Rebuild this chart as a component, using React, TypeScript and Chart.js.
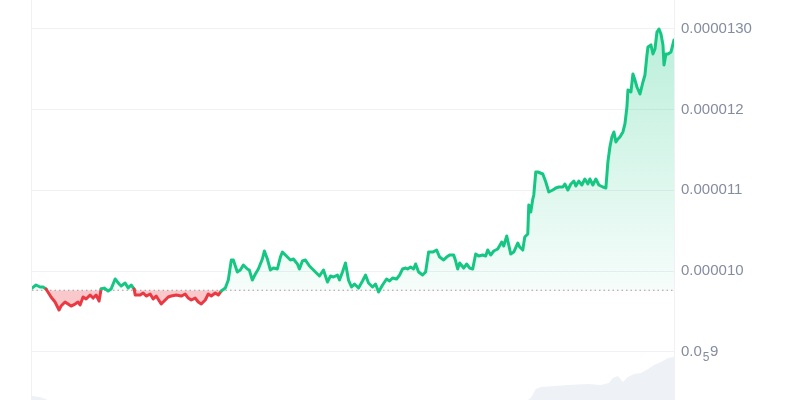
import React, { useEffect, useRef } from "react";
import { Chart, registerables } from "chart.js";

Chart.register(...registerables);

// Time position (steps from the start of the period)
const timeSteps = [
  0, 4, 8, 11, 14, 19, 23, 27, 29, 33, 36, 39, 43, 46, 48, 51, 54, 58, 61, 64,
  67, 69, 72, 76, 79, 83, 87, 89, 93, 96, 99, 102, 103, 108, 111, 114, 118, 121, 124, 129,
  133, 136, 139, 144, 149, 153, 156, 159, 163, 166, 169, 173, 176, 179, 183, 186, 189, 193, 196, 199,
  201, 205, 208, 211, 215, 217, 220, 223, 226, 230, 232, 235, 238, 241, 245, 248, 250, 254, 258, 261,
  265, 267, 270, 273, 277, 280, 284, 287, 291, 295, 298, 301, 305, 307, 310, 313, 316, 319, 322, 326,
  330, 333, 336, 340, 343, 346, 350, 354, 357, 360, 364, 367, 370, 373, 375, 378, 381, 383, 386, 390,
  393, 396, 400, 404, 407, 411, 414, 417, 421, 423, 425, 427, 431, 434, 437, 440, 443, 446, 450, 453,
  455, 458, 461, 465, 469, 471, 474, 476, 478, 481, 485, 487, 490, 492, 495, 496, 498, 500, 501, 503,
  505, 510, 513, 516, 520, 523, 526, 530, 532, 535, 538, 541, 543, 546, 549, 552, 555, 557, 560, 563,
  566, 570, 573, 575, 577, 579, 581, 583, 585, 587, 590, 592, 594, 595, 598, 600, 602, 604, 607, 610,
  612, 614, 615, 618, 620, 622, 624, 626, 628, 630, 631, 633, 635, 638, 641,
];

// Price in millionths (value × 0.000001)
const priceMicro = [
  9.789, 9.827, 9.802, 9.802, 9.777, 9.678, 9.616, 9.517, 9.566, 9.616, 9.591, 9.566, 9.591, 9.616, 9.579, 9.678, 9.653, 9.703, 9.665, 9.703,
  9.628, 9.777, 9.789, 9.752, 9.777, 9.901, 9.839, 9.814, 9.851, 9.789, 9.827, 9.777, 9.703, 9.703, 9.727, 9.69, 9.715, 9.653, 9.69, 9.591,
  9.641, 9.678, 9.69, 9.703, 9.69, 9.715, 9.665, 9.641, 9.665, 9.616, 9.591, 9.641, 9.715, 9.69, 9.727, 9.703, 9.752, 9.789, 9.888, 10.136,
  10.136, 9.988, 10.012, 10.074, 10.025, 10.012, 9.888, 9.963, 10.025, 10.149, 10.248, 10.149, 10.012, 10.037, 10.025, 10.173, 10.235, 10.186, 10.136, 10.149,
  10.087, 10.025, 10.124, 10.136, 10.062, 10.025, 9.975, 9.938, 10.012, 9.864, 9.938, 9.926, 9.95, 9.888, 9.988, 10.099, 9.888, 9.802, 9.839, 9.789,
  9.876, 9.95, 9.851, 9.802, 9.839, 9.74, 9.827, 9.901, 9.876, 9.913, 9.901, 9.95, 10.025, 10.037, 10.025, 10.05, 10.025, 10.087, 9.988, 9.95,
  9.988, 10.235, 10.235, 10.26, 10.173, 10.136, 10.173, 10.198, 10.198, 10.124, 10.025, 10.099, 10.037, 10.087, 10.037, 10.025, 10.211, 10.186, 10.198, 10.186,
  10.26, 10.198, 10.248, 10.273, 10.359, 10.31, 10.434, 10.322, 10.211, 10.235, 10.347, 10.297, 10.26, 10.421, 10.458, 10.818, 10.731, 10.892, 10.942, 11.227,
  11.227, 11.202, 11.103, 10.979, 11.004, 11.029, 11.041, 11.041, 11.078, 11.004, 11.078, 11.115, 11.053, 11.115, 11.066, 11.14, 11.078, 11.14, 11.066, 11.14,
  11.066, 11.041, 11.029, 11.351, 11.537, 11.661, 11.723, 11.599, 11.636, 11.661, 11.723, 11.822, 12.032, 12.243, 12.218, 12.441, 12.367, 12.28, 12.193, 12.342,
  12.429, 12.677, 12.776, 12.801, 12.689, 12.751, 12.962, 12.999, 12.937, 12.801, 12.553, 12.689, 12.689, 12.714, 12.863,
];

// Opening price of the period (dotted reference line), in millionths
const openPriceMicro = 9.762;

// Volume (relative units)
const volumeSteps = [0, 8, 16, 495, 498, 503, 508, 535, 555, 568, 576, 580, 585, 590, 595, 601, 608, 615, 621, 628, 635, 641];
const volumeValues = [4, 3, 0, 0, 2, 11, 13, 15, 16, 15, 17, 22, 24, 18, 23, 26, 27, 31, 35, 38, 42, 43];

// Y axis ticks (millionths) and their labels; the 9 tick uses subscript zero-count notation 0.0₅9
const yTickValues = [9, 10, 11, 12, 13];
const yTickLabels = ["", "0.000010", "0.000011", "0.000012", "0.0000130"];
const subscriptTick = { value: 9, head: "0.0", sub: "5", tail: "9" };

const GREEN = "#16c784";
const RED = "#ea3943";
const GRID = "#eff1f4";
const LABEL = "#858ca0";
const FONT = "'Liberation Sans', Arial, sans-serif";

export default function App() {
  const canvasRef = useRef<HTMLCanvasElement | null>(null);

  useEffect(() => {
    if (!canvasRef.current) return;

    const pricePoints = timeSteps.map((t, i) => ({ x: t, y: priceMicro[i] }));
    const volumePoints = volumeSteps.map((t, i) => ({ x: t, y: volumeValues[i] }));
    const lastStep = timeSteps[timeSteps.length - 1];
    const openPoints = [
      { x: timeSteps[0], y: openPriceMicro },
      { x: lastStep, y: openPriceMicro },
    ];

    const framePlugin = {
      id: "frameLeft",
      beforeDatasetsDraw(chart: any) {
        const { ctx, chartArea } = chart;
        ctx.save();
        ctx.strokeStyle = GRID;
        ctx.lineWidth = 1;
        ctx.beginPath();
        ctx.moveTo(chartArea.left - 0.5, 0);
        ctx.lineTo(chartArea.left - 0.5, chart.height);
        ctx.stroke();
        ctx.restore();
      },
    };

    const subscriptLabelPlugin = {
      id: "subscriptLabel",
      afterDraw(chart: any) {
        const { ctx, chartArea } = chart;
        const y = chart.scales.y.getPixelForValue(subscriptTick.value);
        let x = chartArea.right + 7;
        ctx.save();
        ctx.fillStyle = LABEL;
        ctx.textBaseline = "middle";
        ctx.textAlign = "left";
        ctx.font = `15px ${FONT}`;
        ctx.fillText(subscriptTick.head, x, y);
        x += ctx.measureText(subscriptTick.head).width + 1;
        ctx.font = `12px ${FONT}`;
        ctx.fillText(subscriptTick.sub, x, y + 6);
        x += ctx.measureText(subscriptTick.sub).width + 0.5;
        ctx.font = `15px ${FONT}`;
        ctx.fillText(subscriptTick.tail, x, y);
        ctx.restore();
      },
    };

    const chart = new Chart(canvasRef.current, {
      type: "line",
      data: {
        datasets: [
          {
            label: "price",
            data: pricePoints,
            yAxisID: "y",
            order: 1,
            borderWidth: 3,
            borderJoinStyle: "round",
            borderCapStyle: "round",
            pointRadius: 0,
            tension: 0,
            borderColor: GREEN,
            segment: {
              borderColor: (ctx: any) =>
                (ctx.p0.parsed.y + ctx.p1.parsed.y) / 2 < openPriceMicro ? RED : GREEN,
            },
            backgroundColor: (ctx: any) => {
              const c = ctx.chart;
              const area = c.chartArea;
              if (!area) return "rgba(22,199,132,0.15)";
              const yBase = c.scales.y.getPixelForValue(openPriceMicro);
              const g = c.ctx.createLinearGradient(0, area.top, 0, yBase);
              g.addColorStop(0, "rgba(22,199,132,0.32)");
              g.addColorStop(1, "rgba(22,199,132,0.04)");
              return g;
            },
            fill: {
              target: { value: openPriceMicro },
              below: "rgba(234,57,67,0.28)",
            },
          } as any,
          {
            label: "open",
            data: openPoints,
            yAxisID: "y",
            order: 2,
            borderColor: "#9aa1ad",
            borderWidth: 1,
            borderDash: [1.5, 3],
            pointRadius: 0,
            fill: false,
          },
          {
            label: "volume",
            data: volumePoints,
            yAxisID: "y2",
            order: 3,
            borderWidth: 0,
            borderColor: "rgba(0,0,0,0)",
            backgroundColor: "#eef1f6",
            pointRadius: 0,
            tension: 0,
            fill: "start",
          },
        ],
      },
      options: {
        animation: false,
        responsive: true,
        maintainAspectRatio: false,
        layout: { padding: { left: 32, right: 0, top: 0, bottom: 0 } },
        plugins: {
          legend: { display: false },
          tooltip: { enabled: false },
        },
        scales: {
          x: {
            type: "linear",
            display: false,
            min: timeSteps[0],
            max: lastStep,
          },
          y: {
            position: "right",
            min: 8.402,
            max: 13.358,
            grid: { color: GRID, drawTicks: false, lineWidth: 1 },
            border: { display: true, color: GRID },
            afterBuildTicks: (scale: any) => {
              scale.ticks = yTickValues.map((v) => ({ value: v }));
            },
            afterFit: (scale: any) => {
              scale.width = 126;
              scale.paddingTop = 0;
              scale.paddingBottom = 0;
            },
            ticks: {
              padding: 7,
              color: LABEL,
              font: { family: FONT, size: 15 },
              callback: (value: any) => {
                const idx = yTickValues.indexOf(Number(value));
                return idx >= 0 ? yTickLabels[idx] : "";
              },
            },
          },
          y2: {
            display: false,
            min: 0,
            max: 400,
          },
        },
      },
      plugins: [framePlugin, subscriptLabelPlugin],
    });

    return () => chart.destroy();
  }, []);

  return (
    <div style={{ position: "fixed", left: 0, top: 0, width: 800, height: 400, background: "#fff" }}>
      <canvas ref={canvasRef} />
    </div>
  );
}
